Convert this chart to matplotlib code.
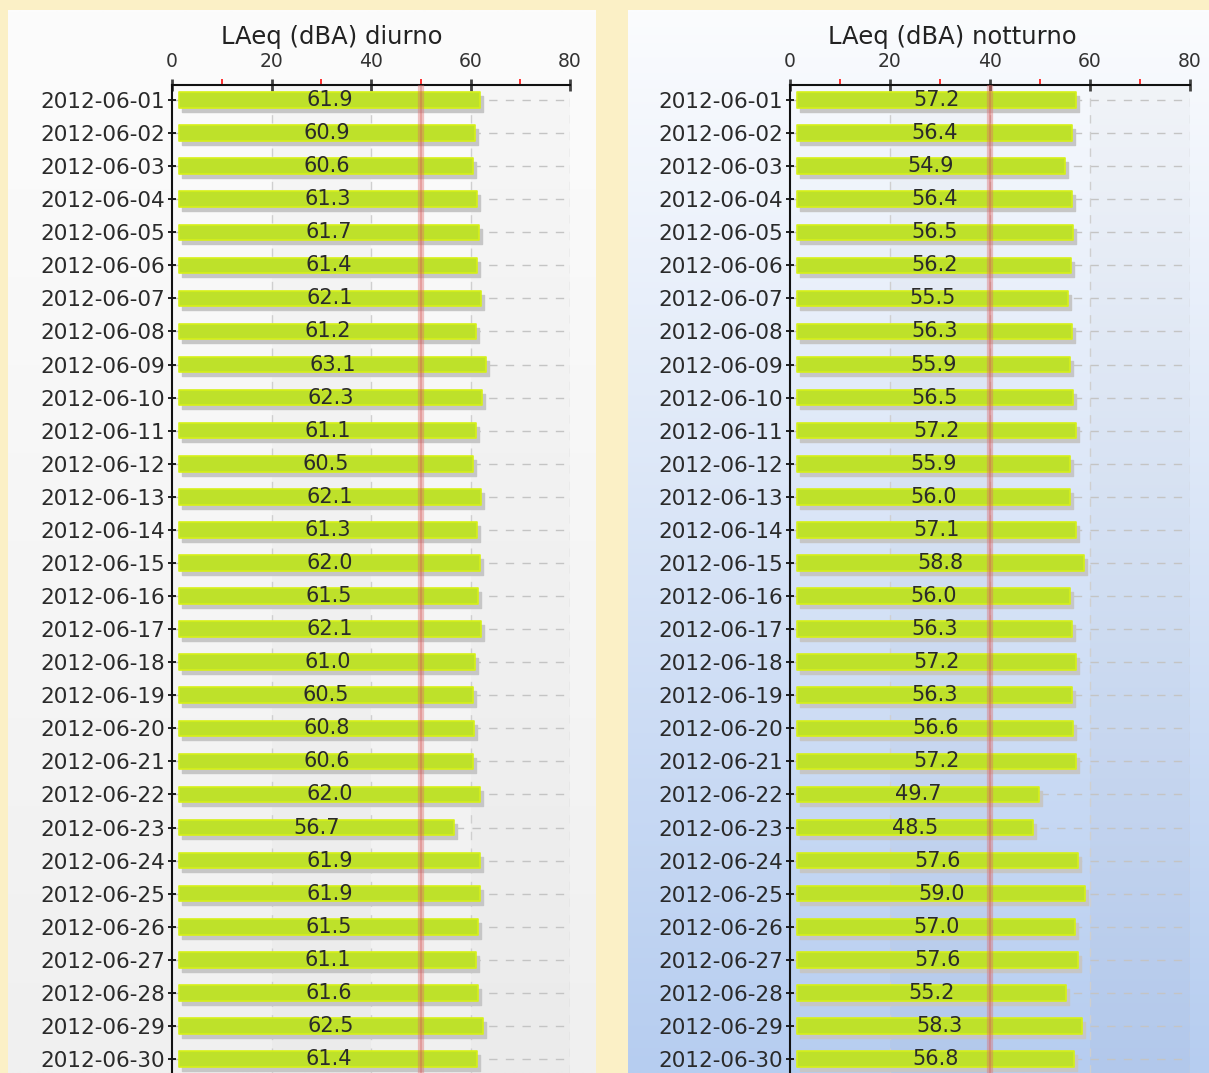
import numpy as np
import matplotlib
matplotlib.use("Agg")
import matplotlib.pyplot as plt
from matplotlib.transforms import ScaledTranslation

# ---------------- data ----------------
dates = [f"2012-06-{d:02d}" for d in range(1, 31)]
diurno = [61.9, 60.9, 60.6, 61.3, 61.7, 61.4, 62.1, 61.2, 63.1, 62.3,
          61.1, 60.5, 62.1, 61.3, 62.0, 61.5, 62.1, 61.0, 60.5, 60.8,
          60.6, 62.0, 56.7, 61.9, 61.9, 61.5, 61.1, 61.6, 62.5, 61.4]
notturno = [57.2, 56.4, 54.9, 56.4, 56.5, 56.2, 55.5, 56.3, 55.9, 56.5,
            57.2, 55.9, 56.0, 57.1, 58.8, 56.0, 56.3, 57.2, 56.3, 56.6,
            57.2, 49.7, 48.5, 57.6, 59.0, 57.0, 57.6, 55.2, 58.3, 56.8]
titles = ["LAeq (dBA) diurno", "LAeq (dBA) notturno"]
limits = [50, 40]
major_ticks = [0, 20, 40, 60, 80]
minor_ticks = [10, 30, 50, 70]

W, H = 1209, 1073
DPI = 100
fig = plt.figure(figsize=(W / DPI, H / DPI), dpi=DPI)
fig.patch.set_facecolor("#fbf0c6")

# ---------------- panel backgrounds ----------------
bg = fig.add_axes([0, 0, 1, 1], zorder=-10)
bg.axis("off")

def gradient(ax, x0, x1, y0, y1, c_top, c_bot):
    ct = np.array(matplotlib.colors.to_rgb(c_top))
    cb = np.array(matplotlib.colors.to_rgb(c_bot))
    t = np.linspace(0, 1, 256)[:, None]
    img = ct[None, :] * (1 - t) + cb[None, :] * t
    img = img[:, None, :]
    ax.imshow(img, extent=[x0, x1, y1, y0], aspect="auto", interpolation="bilinear")

gradient(bg, 8, 596, 10, H, "#fcfcfc", "#f0f0f0")
gradient(bg, 628, W, 10, H, "#fbfcfe", "#b6cdf0")
bg.set_xlim(0, W)
bg.set_ylim(H, 0)

# ---------------- chart panels ----------------
px = 1.0 / W
py = 1.0 / H
ax_left_px = [172, 790]
ax_w_px = [398, 400]
top_px = 85
row_px = 33.07
ytop = -15 / row_px
ybot = ytop + (H - top_px) / row_px
title_x_px = [332, 952]

label_color = "#2a2a2a"
bar_left = 1.5

for i, vals in enumerate([diurno, notturno]):
    ax = fig.add_axes([ax_left_px[i] * px, 0, ax_w_px[i] * px, (H - top_px) * py])
    ax.set_facecolor("none")
    y = np.arange(len(dates))
    ax.set_xlim(0, 80)
    ax.set_ylim(ybot, ytop)

    # alternate bands
    for a, b in [(20, 40), (60, 80)]:
        ax.axvspan(a, b, color="black", alpha=0.02, lw=0, zorder=0)

    # grid
    for yy in y:
        ax.axhline(yy, color="#c4c4c4", lw=1.0, dashes=(6, 6), zorder=0.5)
    for xx in major_ticks[1:]:
        ax.axvline(xx, color="#cfcfcf", lw=1.0, dashes=(6, 6), zorder=0.5)

    v = np.array(vals)
    shadow = ScaledTranslation(3 / DPI, -4 / DPI, fig.dpi_scale_trans)
    ax.barh(y, v - bar_left, left=bar_left, height=0.47, color="#c6c6c6",
            edgecolor="#c6c6c6", lw=1.0, joinstyle="round",
            transform=ax.transData + shadow, zorder=1)
    ax.barh(y, v - bar_left, left=bar_left, height=0.47, color="#bee12a",
            edgecolor="#d6f018", lw=1.2, joinstyle="round", zorder=2)

    for yy, val in zip(y, v):
        ax.text((bar_left + val) / 2, yy, f"{val:.1f}", ha="center", va="center",
                fontsize=15, color=label_color, zorder=4)

    # limit line
    ax.axvline(limits[i], color="#e06a6a", alpha=0.4, lw=4.5, zorder=3)
    ax.axvline(limits[i], color="#d05050", alpha=0.35, lw=1.2, zorder=3)

    # spines
    for s in ["right", "bottom"]:
        ax.spines[s].set_visible(False)
    for s in ["top", "left"]:
        ax.spines[s].set_linewidth(1.5)
        ax.spines[s].set_color("#111111")

    ax.xaxis.tick_top()
    ax.set_xticks(major_ticks)
    ax.set_xticklabels([str(t) for t in major_ticks])
    ax.set_xticks(minor_ticks, minor=True)
    ax.tick_params(axis="x", which="major", direction="inout", length=8, width=2,
                   color="#444444", labelsize=13.5, labelcolor="#333333", pad=6)
    ax.tick_params(axis="x", which="minor", direction="out", length=4.5, width=1.3,
                   color="#ff2020")
    ax.set_yticks(y)
    ax.set_yticklabels(dates)
    ax.tick_params(axis="y", which="major", direction="inout", length=6, width=1.3,
                   color="#111111", labelsize=15.5, labelcolor=label_color, pad=2)

    fig.text(title_x_px[i] * px, 1 - 37 * py, titles[i], ha="center", va="center",
             fontsize=17.5, color="#222222")

fig.savefig("out.png", dpi=DPI, facecolor=fig.get_facecolor())
